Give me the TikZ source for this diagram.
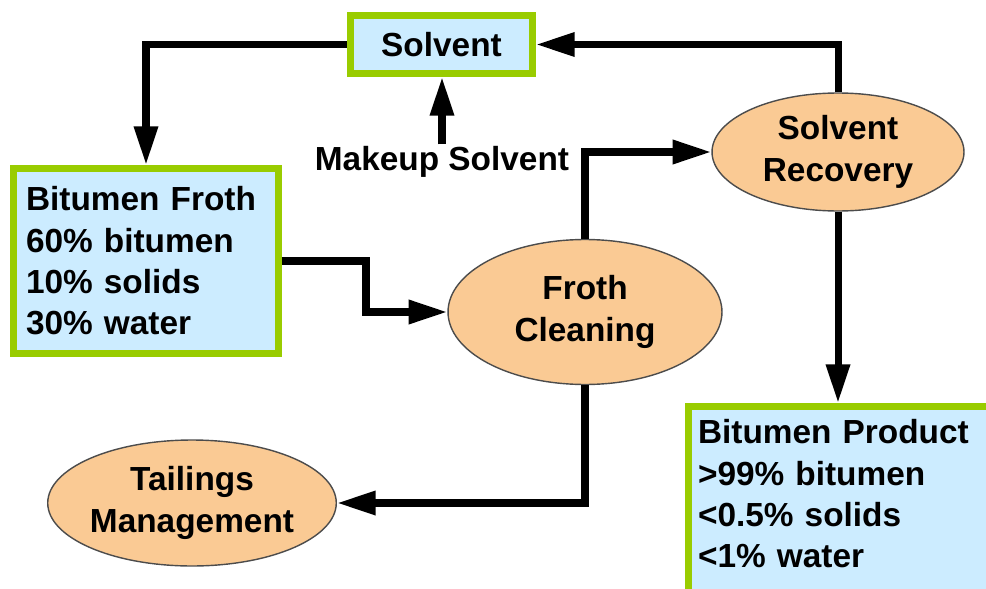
\documentclass[tikz,border=0pt]{standalone}
\usepackage{fontspec}
\setmainfont{Liberation Sans}
\usetikzlibrary{arrows.meta,shapes.geometric}
\definecolor{boxgreen}{RGB}{153,204,0}
\definecolor{boxblue}{RGB}{204,236,255}
\definecolor{unitorange}{RGB}{250,202,148}

\begin{document}
\begin{tikzpicture}[x=0.02cm, y=-0.02cm, font=\fontsize{19}{23.5}\selectfont\bfseries, line join=miter,
    stream/.style={line width=4pt, -{Triangle[length=22pt,width=13pt]}},
    feed/.style={draw=boxgreen, line width=4pt, fill=boxblue, inner sep=0pt},
    unit/.style={ellipse, draw=black!70, line width=0.8pt, fill=unitorange, align=center, inner sep=0pt}]
    \useasboundingbox (0,0) rectangle (986,588);
    \clip (0,0) rectangle (986,588);
    % streams
    \node[feed, minimum width=3.64cm, minimum height=1.16cm] (solvent) at (441.5,44.5) {Solvent};
    \node[feed, minimum width=5.3cm, minimum height=3.7cm, align=left, text width=4.8cm] (froth) at (146,261)
        {Bitumen Froth\\60\% bitumen\\10\% solids\\30\% water};
    \node[feed, minimum width=6.13cm, minimum height=3.83cm, align=left, text width=5.75cm, text depth=2.82cm] (product) at (841.75,502.25)
        {Bitumen Product\\>99\% bitumen\\<0.5\% solids\\<1\% water};
    \node[inner sep=1pt] (makeup) at (442,162) {Makeup Solvent};
    % units
    \node[unit, minimum width=5.48cm, minimum height=2.9cm] (cleaning) at (585,312) {Froth\\Cleaning};
    \node[unit, minimum width=5.04cm, minimum height=2.36cm] (recovery) at (838,152) {Solvent\\Recovery};
    \node[unit, minimum width=5.44cm, minimum height=2.52cm] (tailings) at (192,503) {Tailings\\Management};
    % connectors
    \draw[stream] (solvent.west) -| (froth.north);
    \draw[stream] (recovery.north) |- (solvent.east);
    \draw[stream] (makeup.north) -- (makeup.north |- solvent.south);
    \draw[stream] (froth.east) -- ++(84,0) |- (cleaning.west);
    \draw[stream] (cleaning.north) |- (recovery.west);
    \draw[stream] (recovery.south) -- (recovery.south |- product.north);
    \draw[stream] (cleaning.south) |- (tailings.east);
\end{tikzpicture}
\end{document}
